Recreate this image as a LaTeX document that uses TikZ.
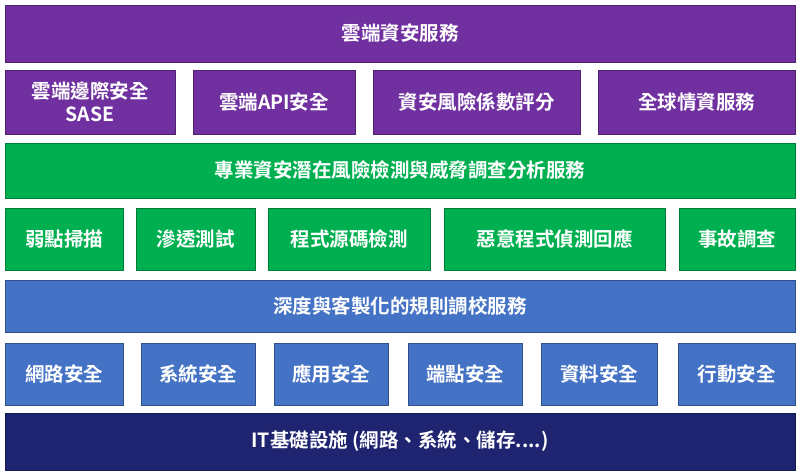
\documentclass[tikz,border=0pt]{standalone}
\usepackage{fontspec}
\setmainfont{Noto Sans CJK TC}[BoldFont={Noto Sans CJK TC Bold}]
\definecolor{pur}{HTML}{7030A0}
\definecolor{grn}{HTML}{00B050}
\definecolor{blu}{HTML}{4472C4}
\definecolor{nav}{HTML}{1F2470}
\begin{document}
\begin{tikzpicture}[x=1pt,y=-1pt,
  blk/.style={draw=#1!70!black,line width=0.6pt,fill=#1,inner sep=0pt},
  lbl/.style={text=white,font=\bfseries\fontsize{19.5}{23}\selectfont,align=center,inner sep=0pt}]
\useasboundingbox[fill=white] (0,0) rectangle (800,475);
\newcommand\bx[7]{\node[blk=#6,minimum width=#3-#2,minimum height=#5-#4] (#1) at ({(#2+#3)/2},{(#4+#5)/2}) {};
  \node[lbl] (t#1) at (#1) {#7};}
\bx{r1}{5}{795}{5}{62}{pur}{雲端資安服務}
\bx{a1}{5}{175}{70}{134}{pur}{雲端邊際安全\\SASE}
\bx{a2}{193}{355}{70}{134}{pur}{雲端API安全}
\bx{a3}{373}{580}{70}{134}{pur}{資安風險係數評分}
\bx{a4}{598}{795}{70}{134}{pur}{全球情資服務}
\bx{r3}{5}{795}{143}{198}{grn}{專業資安潛在風險檢測與威脅調查分析服務}
\bx{b1}{5}{123}{208}{270}{grn}{弱點掃描}
\bx{b2}{136}{255}{208}{270}{grn}{滲透測試}
\bx{b3}{268}{430}{208}{270}{grn}{程式源碼檢測}
\bx{b4}{444}{665}{208}{270}{grn}{惡意程式偵測回應}
\bx{b5}{679}{795}{208}{270}{grn}{事故調查}
\bx{r5}{5}{795}{280}{332}{blu}{深度與客製化的規則調校服務}
\bx{c1}{5}{123}{343}{405}{blu}{網路安全}
\bx{c2}{141}{255}{343}{405}{blu}{系統安全}
\bx{c3}{274}{388}{343}{405}{blu}{應用安全}
\bx{c4}{408}{522}{343}{405}{blu}{端點安全}
\bx{c5}{541}{657}{343}{405}{blu}{資料安全}
\bx{c6}{678}{795}{343}{405}{blu}{行動安全}
\bx{r7}{5}{795}{413}{470}{nav}{IT基礎設施 (網路、系統、儲存....)}
\end{tikzpicture}
\end{document}
